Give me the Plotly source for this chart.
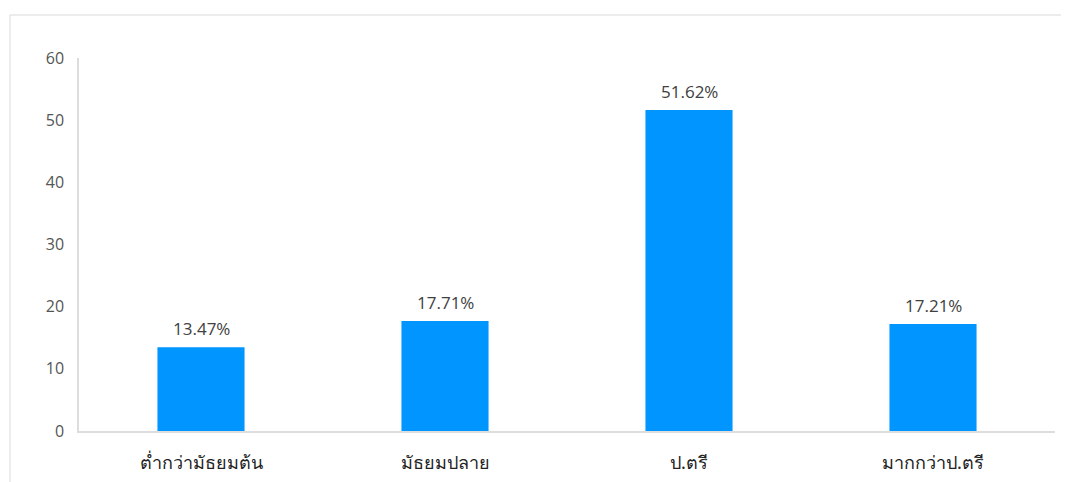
import plotly.graph_objects as go

categories = ["ต่ำกว่ามัธยมต้น", "มัธยมปลาย", "ป.ตรี", "มากกว่าป.ตรี"]
values = [13.47, 17.71, 51.62, 17.21]
labels = ["13.47%", "17.71%", "51.62%", "17.21%"]
y_ticks = [0, 10, 20, 30, 40, 50, 60]

OFF = 8  # page body margin
W, H = 1069 - OFF, 482 - OFF
L, R, T, B = 79 - OFF, 14, 58 - OFF, 51
pw, ph = W - L - R, H - T - B

fig = go.Figure()
fig.add_trace(go.Bar(
    x=categories, y=values,
    marker=dict(color="#0095FF", line=dict(width=0)),
    width=0.357,
    hoverinfo="skip",
))

for c, v, t in zip(categories, values, labels):
    fig.add_annotation(x=c, y=v, text=t, showarrow=False, yanchor="bottom",
                       yshift=5, font=dict(size=17, color="#404040",
                                            family="Open Sans, Noto Sans, sans-serif"))

# outer frame
fx = (10 - OFF - L) / pw
fy = 1 + (T - (15 - OFF)) / ph
fig.add_shape(type="line", xref="paper", yref="paper", x0=fx, x1=1.1, y0=fy, y1=fy,
              line=dict(color="#E6E6E6", width=1.5))
fig.add_shape(type="line", xref="paper", yref="paper", x0=fx, x1=fx, y0=fy, y1=-0.2,
              line=dict(color="#E6E6E6", width=1.5))

fig.update_layout(
    width=W, height=H,
    margin=dict(l=L, r=R, t=T, b=B),
    paper_bgcolor="white", plot_bgcolor="white",
    showlegend=False,
    font=dict(family="Open Sans, Noto Sans, sans-serif", color="#555555"),
    xaxis=dict(
        automargin=False,
        showgrid=False, showline=True, linecolor="#DDDDDD", linewidth=1.5,
        ticks="outside", ticklen=15, tickcolor="rgba(0,0,0,0)",
        tickfont=dict(size=18, color="#222222", family="Noto Sans, Open Sans, sans-serif"),
    ),
    yaxis=dict(
        automargin=False,
        range=[0, 60], tickvals=y_ticks, showgrid=False, zeroline=False,
        showline=True, linecolor="#DDDDDD", linewidth=1.5,
        ticks="outside", ticklen=10, tickcolor="rgba(0,0,0,0)",
        tickfont=dict(size=16, color="#555555"),
    ),
)

fig.write_html("out.html")
